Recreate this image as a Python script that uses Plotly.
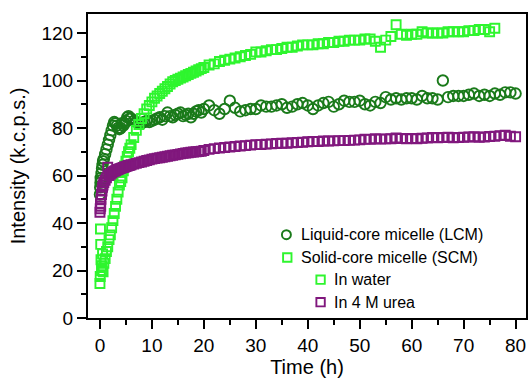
import plotly.graph_objects as go

# ---------------- data ----------------
lcm_t = [0.0, 0.05, 0.1, 0.15, 0.2, 0.3, 0.4, 0.5, 0.6, 0.75, 1.0, 1.25, 1.5, 1.75, 2.0, 2.25, 2.5, 2.75,
         3.0, 3.25, 3.5, 3.75, 4.0, 4.25, 4.5, 4.75, 5.0, 5.25, 5.5, 5.75, 6.0, 6.5, 7.0, 7.5, 8.0, 8.5,
         9.0, 9.5, 10.0, 10.5, 11.0, 11.5, 12.0, 12.5, 13.0, 13.5, 14.0, 14.5, 15.0, 15.5, 16.0, 16.5,
         17.0, 17.5, 18.0, 18.5, 19.0, 19.5, 20, 21, 22, 23, 24, 25, 26, 27, 28, 29, 30, 31, 32, 33, 34,
         35, 36, 37, 38, 39, 40, 41, 42, 43, 44, 45, 46, 47, 48, 49, 50, 51, 52, 53, 54, 55, 56, 57, 58,
         59, 60, 61, 62, 63, 64, 65, 66, 67, 68, 69, 70, 71, 72, 73, 74, 75, 76, 77, 78, 79, 80]
lcm_v = [52, 55, 57, 59, 58, 61, 63, 64.5, 66, 67, 69, 71, 73, 75, 77, 79, 81, 82.5,
         82, 81, 80, 79.5, 80, 82, 81, 82, 83, 84.5, 85, 84, 84, 83, 82.5, 82, 82, 82.5,
         83, 82.5, 83, 83.5, 84, 84.5, 83.5, 85, 86.5, 85, 84.5, 85.5, 86, 86.5, 85, 85.5,
         86, 84.5, 86, 87, 87.5, 86.5, 88, 89.5, 87.5, 86, 88, 91.5, 88.5, 87, 87.5, 88, 88, 89.5, 89, 89, 89.5,
         90, 88.5, 89, 90, 90.5, 89.5, 88, 89.5, 90.5, 91, 89, 90, 91.5, 91, 91, 91.5, 90, 89.5, 91, 90.5, 93, 92, 92.5, 92,
         92.5, 92.5, 92, 93.5, 92.5, 92.5, 92, 100, 93, 93.5, 93.5, 93.5, 94, 94.5, 93.5, 94, 93.5, 94.5, 94, 95, 95, 94.5]

water_t = [0.0, 0.05, 0.1, 0.15, 0.2, 0.3, 0.4, 0.5, 0.6, 0.75, 1.0, 1.25, 1.5, 1.75, 2.0, 2.25, 2.5, 2.75,
           3.0, 3.25, 3.5, 3.75, 4.0, 4.25, 4.5, 4.75, 5.0, 5.25, 5.5, 5.75, 6.0, 6.5, 7.0, 7.5, 8.0, 8.5,
           9.0, 9.5, 10.0, 10.5, 11.0, 11.5, 12.0, 12.5, 13.0, 13.5, 14.0, 14.5, 15.0, 15.5, 16.0, 16.5,
           17.0, 17.5, 18.0, 18.5, 19.0, 19.5, 20, 21, 22, 23, 24, 25, 26, 27, 28, 29, 30, 31, 32, 33, 34,
           35, 36, 37, 38, 39, 40, 41, 42, 43, 44, 45, 46, 47, 48, 49, 50, 51, 52, 53, 54, 55, 56, 57, 58,
           59, 60, 61, 62, 63, 64, 65, 66, 67, 68, 69, 70, 71, 72, 73, 74, 75, 76]
water_v = [14.5, 17.5, 37.5, 31, 24.5, 20, 22, 27, 19.5, 23, 25, 28, 30, 33, 35, 38, 41, 44,
           47, 50, 53, 56, 57.5, 59, 62, 64, 66, 68, 70, 71.5, 73, 76, 79, 81.5, 84, 86,
           88, 89.5, 91, 92.5, 93.5, 94.5, 95.5, 96.5, 97.5, 98.5, 99.5, 100, 100.5, 101, 101.5, 102,
           102.5, 103, 103.5, 104, 104.5, 105, 105.5, 106.5, 107, 108, 108.5, 109, 109.5, 110, 110.5, 111, 112, 112, 112.5, 113, 113,
           113.5, 114, 114, 114.5, 115, 115, 115, 115.5, 115.5, 116, 116, 116.5, 116.5, 117, 117, 117, 117.5, 117.5, 116.5, 114, 117, 118.5, 123.5, 119.5,
           119, 119.5, 119.5, 120.5, 120, 120, 120, 120, 120.5, 120.5, 120.5, 120.5, 121, 121, 121.5, 121.5, 120.5, 122]

urea_t = [0.0, 0.05, 0.1, 0.15, 0.2, 0.3, 0.4, 0.5, 0.6, 0.75, 1.0, 1.25, 1.5, 1.75, 2.0, 2.25, 2.5, 2.75,
          3.0, 3.25, 3.5, 3.75, 4.0, 4.25, 4.5, 4.75, 5.0, 5.25, 5.5, 5.75, 6.0, 6.5, 7.0, 7.5, 8.0, 8.5,
          9.0, 9.5, 10.0, 10.5, 11.0, 11.5, 12.0, 12.5, 13.0, 13.5, 14.0, 14.5, 15.0, 15.5, 16.0, 16.5,
          17.0, 17.5, 18.0, 18.5, 19.0, 19.5, 20, 21, 22, 23, 24, 25, 26, 27, 28, 29, 30, 31, 32, 33, 34,
          35, 36, 37, 38, 39, 40, 41, 42, 43, 44, 45, 46, 47, 48, 49, 50, 51, 52, 53, 54, 55, 56, 57, 58,
          59, 60, 61, 62, 63, 64, 65, 66, 67, 68, 69, 70, 71, 72, 73, 74, 75, 76, 77, 78, 79, 80]
urea_v = [44.5, 46, 48, 47, 50, 52, 53.5, 55, 56, 57, 58, 59, 63.5, 60, 60.5, 61, 61.5, 61.8,
          62, 62.3, 62.5, 62.8, 63, 63.2, 63.4, 63.6, 63.8, 64, 64.2, 64.3, 64.5, 64.8, 65.1, 65.4, 65.7, 66,
          66.3, 66.6, 66.9, 67.1, 67.3, 67.5, 67.7, 67.9, 68.1, 68.3, 68.5, 68.7, 68.9, 69.1, 69.3, 69.5,
          69.6, 69.8, 69.9, 70, 70.1, 70.2, 70.5, 71, 71.3, 71.6, 71.8, 72, 72.2, 72.4, 72.6, 72.8, 73, 73, 73.2, 73.3, 73.5,
          73.6, 73.6, 73.8, 73.9, 74, 74.2, 74.3, 74.3, 74.5, 74.5, 74.6, 74.7, 74.7, 74.8, 74.9, 75, 75.3, 75.2, 75.5, 75.3, 75.4, 75.5, 75.8, 75.6,
          75.5, 75.6, 75.5, 75.7, 75.8, 76, 75.9, 76, 76.1, 75.9, 76, 76.1, 76.2, 76.3, 76.1, 76.2, 76.4, 76.5, 76.8, 77, 76.5, 76.3]

x_ticks = [0, 10, 20, 30, 40, 50, 60, 70, 80]
y_ticks = [0, 20, 40, 60, 80, 100, 120]

legend_labels = ["Liquid-core micelle (LCM)", "Solid-core micelle (SCM)", "In water", "In 4 M urea"]

# ---------------- style ----------------
C_LCM = "#1a7a1a"
C_WATER = "#2ef52e"
C_UREA = "#80177d"
FONT = "Liberation Sans, Arial, sans-serif"

fig = go.Figure()
fig.add_trace(go.Scatter(x=lcm_t, y=lcm_v, mode="markers", name=legend_labels[0],
                         marker=dict(symbol="circle-open", size=10.5, color=C_LCM, line=dict(width=1.9, color=C_LCM))))
fig.add_trace(go.Scatter(x=water_t, y=water_v, mode="markers", name=legend_labels[2],
                         marker=dict(symbol="square-open", size=9, color=C_WATER, line=dict(width=1.9, color=C_WATER))))
fig.add_trace(go.Scatter(x=urea_t, y=urea_v, mode="markers", name=legend_labels[3],
                         marker=dict(symbol="square-open", size=9, color=C_UREA, line=dict(width=1.9, color=C_UREA))))

axis_common = dict(showgrid=False, zeroline=False, showline=True, linecolor="black", linewidth=2,
                   mirror=True, ticks="outside", ticklen=9, tickwidth=2, tickcolor="black",
                   tickfont=dict(family=FONT, size=19, color="black"))

fig.update_xaxes(range=[-2.3, 82], tickmode="array", tickvals=x_ticks, ticktext=[str(v) for v in x_ticks],
                 minor=dict(dtick=5, tick0=0, ticks="outside", ticklen=5, tickwidth=2, tickcolor="black"),
                 title=dict(text="Time (h)", font=dict(family=FONT, size=20, color="black"), standoff=5),
                 **axis_common)
fig.update_yaxes(range=[0, 128], tickmode="array", tickvals=y_ticks, ticktext=[str(v) for v in y_ticks],
                 minor=dict(dtick=10, tick0=0, ticks="outside", ticklen=5, tickwidth=2, tickcolor="black"),
                 title=dict(text="Intensity (k.c.p.s.)", font=dict(family=FONT, size=20, color="black"), standoff=10),
                 **axis_common)

# manual legend (positions in paper coordinates)
leg_items = [
    ("circle", C_LCM, 0.453, 0.274, 0.481, legend_labels[0]),
    ("rect", C_WATER, 0.455, 0.199, 0.481, legend_labels[1]),
    ("rect", C_WATER, 0.531, 0.126, 0.557, legend_labels[2]),
    ("rect", C_UREA, 0.531, 0.052, 0.557, legend_labels[3]),
]
for kind, col, sx, sy, tx, label in leg_items:
    r = 4.5 if kind == "circle" else 4.2
    fig.add_shape(type=kind, xref="paper", yref="paper", xsizemode="pixel", ysizemode="pixel",
                  xanchor=sx, yanchor=sy, x0=-r, x1=r, y0=-r, y1=r,
                  line=dict(color=col, width=1.9), fillcolor="rgba(0,0,0,0)")
    fig.add_annotation(x=tx, y=sy, xref="paper", yref="paper", text=label, showarrow=False,
                       xanchor="left", yanchor="middle",
                       font=dict(family=FONT, size=16, color="black"))

fig.update_layout(width=531, height=380, margin=dict(l=88, r=3, t=14, b=62),
                  paper_bgcolor="white", plot_bgcolor="white", showlegend=False,
                  font=dict(family=FONT, color="black"))

fig.write_html("out.html")
